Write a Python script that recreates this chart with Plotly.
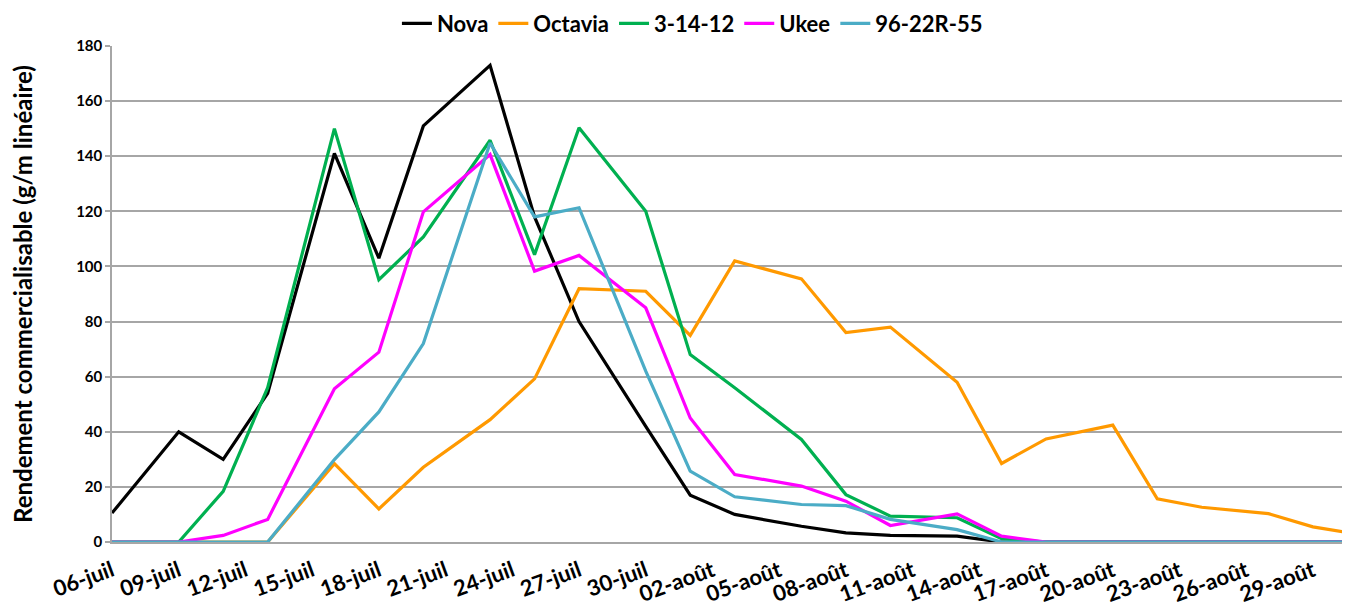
import plotly.graph_objects as go

dates = ["2012-07-06", "2012-07-09", "2012-07-11", "2012-07-13", "2012-07-16",
         "2012-07-18", "2012-07-20", "2012-07-23", "2012-07-25", "2012-07-27",
         "2012-07-30", "2012-08-01", "2012-08-03", "2012-08-06", "2012-08-08",
         "2012-08-10", "2012-08-13", "2012-08-15", "2012-08-17", "2012-08-20",
         "2012-08-22", "2012-08-24", "2012-08-27", "2012-08-29", "2012-08-31"]

nova = [10.5, 40, 30, 54, 141, 103, 151, 173, 118, 80, 42, 17, 10, 5.7, 3.3,
        2.4, 2.1, 0, 0, 0, 0, 0, 0, 0, 0]
octavia = [0, 0, 0, 0, 28.4, 12, 27.1, 44.4, 59.2, 91.9, 91, 75, 102, 95.5, 76,
           78, 58, 28.5, 37.4, 42.4, 15.7, 12.6, 10.3, 5.5, 2.8]
s31412 = [0, 0, 18.4, 56, 150, 95.2, 110.7, 145.8, 104.3, 150.3, 120, 68, 56,
          37.2, 17.2, 9.4, 8.8, 1.2, 0, 0, 0, 0, 0, 0, 0]
ukee = [0, 0, 2.4, 8.2, 55.6, 68.9, 119.8, 140.6, 98.3, 104, 85, 45, 24.5, 20.3,
        14.8, 6, 10.2, 2.1, 0, 0, 0, 0, 0, 0, 0]
s9622 = [0, 0, 0, 0, 29.9, 47.2, 72, 144.8, 118, 121.3, 62, 25.7, 16.4, 13.6,
         13.2, 8.2, 4.5, 0, 0, 0, 0, 0, 0, 0, 0]

series_names = ["Nova", "Octavia", "3-14-12", "Ukee", "96-22R-55"]
series_values = [nova, octavia, s31412, ukee, s9622]
series_colors = ["#000000", "#FF9900", "#00B050", "#FF00FF", "#4BACC6"]

tick_dates = ["2012-07-06", "2012-07-09", "2012-07-12", "2012-07-15", "2012-07-18",
              "2012-07-21", "2012-07-24", "2012-07-27", "2012-07-30", "2012-08-02",
              "2012-08-05", "2012-08-08", "2012-08-11", "2012-08-14", "2012-08-17",
              "2012-08-20", "2012-08-23", "2012-08-26", "2012-08-29"]
tick_labels = ["06-juil", "09-juil", "12-juil", "15-juil", "18-juil", "21-juil",
               "24-juil", "27-juil", "30-juil", "02-août", "05-août", "08-août",
               "11-août", "14-août", "17-août", "20-août", "23-août", "26-août",
               "29-août"]

FONT = "Lato"
fig = go.Figure()
for name, vals, col in zip(series_names, series_values, series_colors):
    fig.add_trace(go.Scatter(x=dates, y=vals, mode="lines", name=name,
                             line=dict(color=col, width=3.2)))

fig.update_layout(
    width=1342, height=601,
    margin=dict(l=104, r=0, t=38, b=67, autoexpand=False),
    plot_bgcolor="white", paper_bgcolor="white",
    font=dict(family=FONT, color="black"),
    showlegend=True,
    legend=dict(orientation="h", xref="container", yref="container",
                x=0.51, xanchor="center", y=0.974, yanchor="middle",
                font=dict(family=FONT, size=22, color="black", weight="bold"),
                itemwidth=30, tracegroupgap=0, borderwidth=0),
)
fig.update_xaxes(
    type="date", range=["2012-07-06", "2012-08-30 16:00"],
    tickvals=tick_dates, ticktext=tick_labels, tickangle=-20,
    tickfont=dict(family=FONT, size=22, color="black", weight="bold"),
    ticklabelstandoff=6,
    showgrid=False, showline=True, linecolor="#A6A6A6", linewidth=1.5,
    ticks="", zeroline=False, automargin=False,
)
fig.update_yaxes(
    range=[0, 180], dtick=20, tick0=0,
    tickfont=dict(family=FONT, size=15, color="black", weight="bold"),
    showgrid=True, gridcolor="#A6A6A6", gridwidth=1.5,
    showline=True, linecolor="#A6A6A6", linewidth=1.5,
    ticks="outside", ticklen=5, tickcolor="#A6A6A6", tickwidth=1.5,
    zeroline=False, automargin=False,
    title=dict(text="Rendement commercialisable (g/m linéaire)",
               font=dict(family=FONT, size=24, color="black", weight="bold"),
               standoff=50),
)

fig.write_html("out.html")
